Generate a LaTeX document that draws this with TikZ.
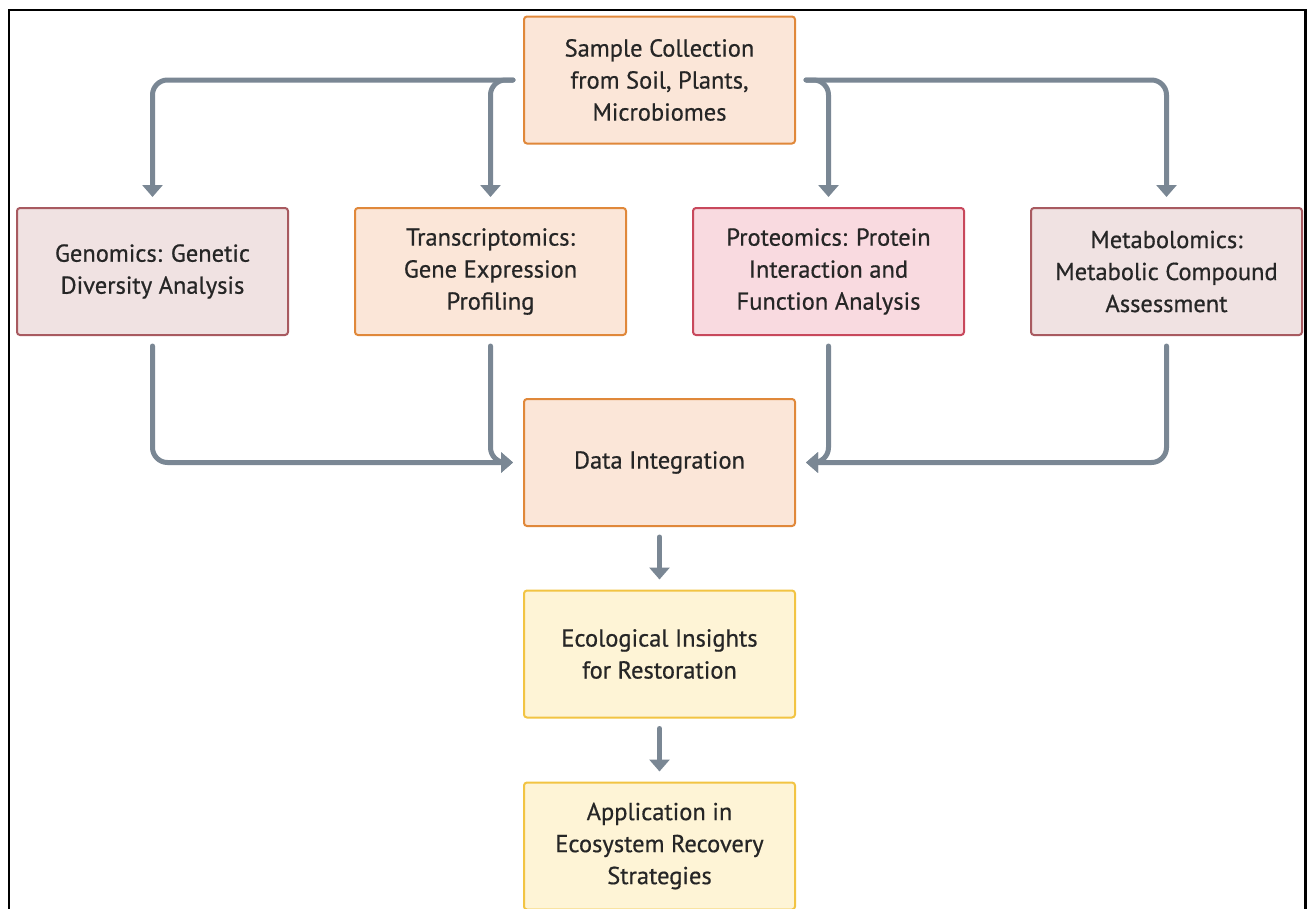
\documentclass[tikz,border=0pt]{standalone}
\usepackage{fontspec}
\setmainfont{PT Sans}
\newfontfamily\boxfont{PT Sans}[RawFeature={embolden=0.6}]
\usetikzlibrary{arrows.meta}
\definecolor{peachfill}{HTML}{FBE6D8}
\definecolor{peachline}{HTML}{E0883A}
\definecolor{rosefill}{HTML}{F0E2E2}
\definecolor{roseline}{HTML}{A85A60}
\definecolor{pinkfill}{HTML}{F9DAE0}
\definecolor{pinkline}{HTML}{C8485C}
\definecolor{yelfill}{HTML}{FEF4D6}
\definecolor{yelline}{HTML}{F2C443}
\definecolor{arrcol}{HTML}{7A8794}
\definecolor{txtcol}{HTML}{262626}
\tikzset{
  boxbase/.style={rectangle, rounded corners=3pt, line width=2pt, minimum width=271pt, minimum height=127pt,
    align=center, text=txtcol, font=\boxfont\fontsize{24.5pt}{32pt}\selectfont, inner sep=0pt},
  peachbox/.style={boxbase, draw=peachline, fill=peachfill},
  rosebox/.style={boxbase, draw=roseline, fill=rosefill},
  pinkbox/.style={boxbase, draw=pinkline, fill=pinkfill},
  yelbox/.style={boxbase, draw=yelline, fill=yelfill},
  conn/.style={draw=arrcol, line width=5pt, rounded corners=15pt, line cap=round,
    -{Triangle[width=20pt,length=12pt]}, shorten <=10pt, shorten >=10pt},
}
\begin{document}
\begin{tikzpicture}[x=1pt,y=-1pt]
\clip (0,0) rectangle (1307,908);
\fill[white] (0,0) rectangle (1307,908);
\draw[line width=2.5pt] (9,915) -- (9,10) -- (1305.5,10) -- (1305.5,915);

\node[peachbox] (S) at (659.5,80) {Sample Collection\\from Soil, Plants,\\Microbiomes};
\node[rosebox]  (G) at (152.5,271.5) {Genomics: Genetic\\Diversity Analysis};
\node[peachbox] (T) at (490.5,271.5) {Transcriptomics:\\Gene Expression\\Profiling};
\node[pinkbox]  (P) at (828.5,271.5) {Proteomics: Protein\\Interaction and\\Function Analysis};
\node[rosebox]  (M) at (1166.5,271.5) {Metabolomics:\\Metabolic Compound\\Assessment};
\node[peachbox] (D) at (659.5,462.5) {Data Integration};
\node[yelbox]   (E) at (659.5,654) {Ecological Insights\\for Restoration};
\node[yelbox]   (A) at (659.5,846) {Application in\\Ecosystem Recovery\\Strategies};

\draw[conn] (S.west) -| (G.north);
\draw[conn] (S.west) -| (T.north);
\draw[conn] (S.east) -| (P.north);
\draw[conn] (S.east) -| (M.north);
\draw[conn] (G.south) |- (D.west);
\draw[conn] (T.south) |- (D.west);
\draw[conn] (P.south) |- (D.east);
\draw[conn] (M.south) |- (D.east);
\draw[conn] (D.south) -- (E.north);
\draw[conn] (E.south) -- (A.north);
\end{tikzpicture}
\end{document}
